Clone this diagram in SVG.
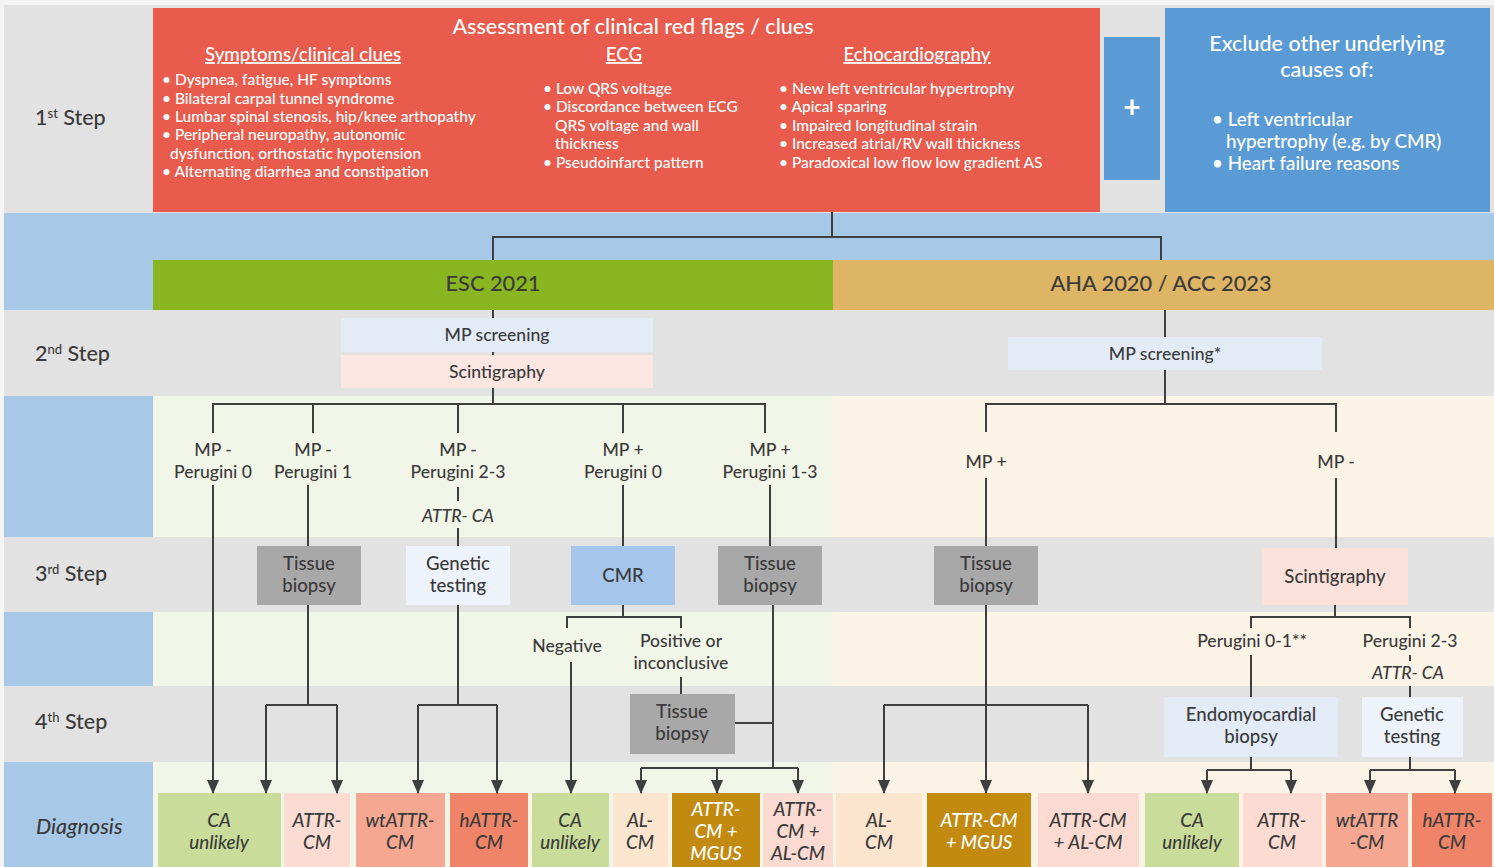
<svg xmlns="http://www.w3.org/2000/svg" width="1494" height="867" viewBox="0 0 1494 867">
<style>
text{font-family:Lato,"Open Sans","Liberation Sans",sans-serif;fill:#3b3b3b;font-weight:500}
.w{fill:#ffffff}
.c{text-anchor:middle}
.step{font-size:21.5px}
.sup{font-size:13px}
.hd{font-size:18.7px;text-decoration:underline}
.bl{font-size:15.5px}
.bb{font-size:18.8px}
.lb{font-size:17.6px}
.bx{font-size:18.6px}
.it{font-style:italic}
.dx{font-size:18.8px;font-style:italic}
.plus{font-size:30px;font-weight:700}
.ln{fill:none;stroke:#3f3f3f;stroke-width:2}
.ar{fill:none;stroke:#3f3f3f;stroke-width:2;marker-end:url(#ah)}
.gray{fill:#e2e2e2}
.blue{fill:#a8c8e8}
.lg{fill:#f2f6e8}
.cr{fill:#fcf3e7}
</style>
<defs>
<marker id="ah" markerUnits="userSpaceOnUse" markerWidth="12" markerHeight="14" refX="6" refY="13" orient="0" viewBox="0 0 12 14">
<path d="M0,0 L12,0 L6,14 z" fill="#3f3f3f"/>
</marker>
</defs>
<g id="background">
<rect x="0" y="0" width="1494" height="867" fill="#f4f4f4"/>
<rect x="4" y="5" width="1490" height="208" class="gray"/>
<rect x="4" y="213" width="1490" height="47" class="blue"/>
<rect x="4" y="260" width="149" height="50" class="blue"/>
<rect x="153" y="260" width="680" height="50" fill="#89b520"/>
<rect x="833" y="260" width="661" height="50" fill="#ddb564"/>
<rect x="4" y="310" width="1490" height="86" class="gray"/>
<rect x="4" y="396" width="149" height="141" class="blue"/>
<rect x="153" y="396" width="680" height="141" class="lg"/>
<rect x="833" y="396" width="661" height="141" class="cr"/>
<rect x="4" y="537" width="1490" height="75" class="gray"/>
<rect x="4" y="612" width="149" height="74" class="blue"/>
<rect x="153" y="612" width="680" height="74" class="lg"/>
<rect x="833" y="612" width="661" height="74" class="cr"/>
<rect x="4" y="686" width="1490" height="76" class="gray"/>
<rect x="4" y="762" width="149" height="105" class="blue"/>
<rect x="153" y="762" width="680" height="105" class="lg"/>
<rect x="833" y="762" width="661" height="105" class="cr"/>
</g>
<g id="step-labels">
<text x="35" y="125" class="step">1<tspan class="sup" dy="-7">st</tspan><tspan dy="7"> Step</tspan></text>
<text x="35" y="361" class="step">2<tspan class="sup" dy="-7">nd</tspan><tspan dy="7"> Step</tspan></text>
<text x="35" y="581" class="step">3<tspan class="sup" dy="-7">rd</tspan><tspan dy="7"> Step</tspan></text>
<text x="35" y="729" class="step">4<tspan class="sup" dy="-7">th</tspan><tspan dy="7"> Step</tspan></text>
<text x="36" y="834" class="step it">Diagnosis</text>
</g>
<g id="red-flags">
<rect x="153" y="8" width="947" height="204" fill="#e95b4d"/>
<text x="633" y="34" class="w c" font-size="21.5">Assessment of clinical red flags / clues</text>
<text x="303" y="61" class="w c hd">Symptoms/clinical clues</text>
<text x="162" y="85" class="w bl">• Dyspnea, fatigue, HF symptoms</text>
<text x="162" y="104" class="w bl">• Bilateral carpal tunnel syndrome</text>
<text x="162" y="122" class="w bl">• Lumbar spinal stenosis, hip/knee arthopathy</text>
<text x="162" y="140" class="w bl">• Peripheral neuropathy, autonomic</text>
<text x="170" y="159" class="w bl">dysfunction, orthostatic hypotension</text>
<text x="162" y="177" class="w bl">• Alternating diarrhea and constipation</text>
<text x="624" y="61" class="w c hd">ECG</text>
<text x="543" y="94" class="w bl">• Low QRS voltage</text>
<text x="543" y="112" class="w bl">• Discordance between ECG</text>
<text x="555" y="131" class="w bl">QRS voltage and wall</text>
<text x="555" y="149" class="w bl">thickness</text>
<text x="543" y="168" class="w bl">• Pseudoinfarct pattern</text>
<text x="917" y="61" class="w c hd">Echocardiography</text>
<text x="779" y="94" class="w bl">• New left ventricular hypertrophy</text>
<text x="779" y="112" class="w bl">• Apical sparing</text>
<text x="779" y="131" class="w bl">• Impaired longitudinal strain</text>
<text x="779" y="149" class="w bl">• Increased atrial/RV wall thickness</text>
<text x="779" y="168" class="w bl">• Paradoxical low flow low gradient AS</text>
</g>
<g id="plus">
<rect x="1104" y="37" width="56" height="143" fill="#5b9bd5"/>
<text x="1132" y="118" class="w c plus">+</text>
</g>
<g id="exclude">
<rect x="1165" y="8" width="325" height="204" fill="#5b9bd5"/>
<text x="1327" y="51" class="w c" font-size="21.5">Exclude other underlying</text>
<text x="1327" y="77" class="w c" font-size="21.5">causes of:</text>
<text x="1212" y="126" class="w bb">• Left ventricular</text>
<text x="1226" y="148" class="w bb">hypertrophy (e.g. by CMR)</text>
<text x="1212" y="170" class="w bb">• Heart failure reasons</text>
</g>
<g id="esc">
<text x="493" y="291" class="c" font-size="21.8">ESC 2021</text>
</g>
<g id="aha">
<text x="1161" y="291" class="c" font-size="21.8">AHA 2020 / ACC 2023</text>
</g>
<g id="esc-mp">
<rect x="341" y="318" width="312" height="34" fill="#e3ebf7"/>
<text x="497" y="341" class="c lb">MP screening</text>
</g>
<g id="esc-scinti">
<rect x="341" y="355" width="312" height="33" fill="#fbe6e2"/>
<text x="497" y="378" class="c lb">Scintigraphy</text>
</g>
<g id="aha-mp">
<rect x="1008" y="337" width="314" height="33" fill="#e3ebf7"/>
<text x="1165" y="360" class="c lb">MP screening*</text>
</g>
<g id="lbl-mpn-p0"><text x="213" y="456" class="c lb">MP -</text><text x="213" y="478" class="c lb">Perugini 0</text></g>
<g id="lbl-mpn-p1"><text x="313" y="456" class="c lb">MP -</text><text x="313" y="478" class="c lb">Perugini 1</text></g>
<g id="lbl-mpn-p23"><text x="458" y="456" class="c lb">MP -</text><text x="458" y="478" class="c lb">Perugini 2-3</text><text x="458" y="522" class="c lb it">ATTR- CA</text></g>
<g id="lbl-mpp-p0"><text x="623" y="456" class="c lb">MP +</text><text x="623" y="478" class="c lb">Perugini 0</text></g>
<g id="lbl-mpp-p13"><text x="770" y="456" class="c lb">MP +</text><text x="770" y="478" class="c lb">Perugini 1-3</text></g>
<g id="lbl-aha-mpp"><text x="986" y="468" class="c lb">MP +</text></g>
<g id="lbl-aha-mpn"><text x="1336" y="468" class="c lb">MP -</text></g>
<g id="tissue1">
<rect x="257" y="546" width="104" height="59" fill="#a8a8a8"/>
<text x="309" y="570" class="c bx">Tissue</text><text x="309" y="592" class="c bx">biopsy</text>
</g>
<g id="genetic1">
<rect x="406" y="546" width="104" height="59" fill="#eef3fb"/>
<text x="458" y="570" class="c bx">Genetic</text><text x="458" y="592" class="c bx">testing</text>
</g>
<g id="cmr">
<rect x="571" y="546" width="104" height="59" fill="#a5c6ea"/>
<text x="623" y="582" class="c bx">CMR</text>
</g>
<g id="tissue2">
<rect x="718" y="546" width="104" height="59" fill="#a8a8a8"/>
<text x="770" y="570" class="c bx">Tissue</text><text x="770" y="592" class="c bx">biopsy</text>
</g>
<g id="tissue-aha">
<rect x="934" y="546" width="104" height="59" fill="#a8a8a8"/>
<text x="986" y="570" class="c bx">Tissue</text><text x="986" y="592" class="c bx">biopsy</text>
</g>
<g id="scinti-aha">
<rect x="1262" y="548" width="146" height="57" fill="#fbe1da"/>
<text x="1335" y="583" class="c bx">Scintigraphy</text>
</g>
<g id="lbl-negative"><text x="567" y="652" class="c lb">Negative</text></g>
<g id="lbl-positive"><text x="681" y="647" class="c lb">Positive or</text><text x="681" y="669" class="c lb">inconclusive</text></g>
<g id="tissue3">
<rect x="630" y="694" width="105" height="60" fill="#a8a8a8"/>
<text x="682" y="718" class="c bx">Tissue</text><text x="682" y="740" class="c bx">biopsy</text>
</g>
<g id="lbl-p01"><text x="1252" y="647" class="c lb">Perugini 0-1**</text></g>
<g id="lbl-p23"><text x="1410" y="647" class="c lb">Perugini 2-3</text><text x="1408" y="679" class="c lb it">ATTR- CA</text></g>
<g id="endo">
<rect x="1164" y="697" width="174" height="60" fill="#e3ebf7"/>
<text x="1251" y="721" class="c bx">Endomyocardial</text><text x="1251" y="743" class="c bx">biopsy</text>
</g>
<g id="genetic2">
<rect x="1362" y="697" width="101" height="60" fill="#eef3fb"/>
<text x="1412" y="721" class="c bx">Genetic</text><text x="1412" y="743" class="c bx">testing</text>
</g>
<g id="dx1"><rect x="158" y="793" width="123" height="74" fill="#c9dc99"/><text x="219" y="827" class="c dx">CA</text><text x="219" y="849" class="c dx">unlikely</text></g>
<g id="dx2"><rect x="284" y="793" width="66" height="74" fill="#fcdcd2"/><text x="317" y="827" class="c dx">ATTR-</text><text x="317" y="849" class="c dx">CM</text></g>
<g id="dx3"><rect x="356" y="793" width="89" height="74" fill="#f5a792"/><text x="400" y="827" class="c dx">wtATTR-</text><text x="400" y="849" class="c dx">CM</text></g>
<g id="dx4"><rect x="450" y="793" width="78" height="74" fill="#ef8469"/><text x="489" y="827" class="c dx">hATTR-</text><text x="489" y="849" class="c dx">CM</text></g>
<g id="dx5"><rect x="532" y="793" width="77" height="74" fill="#c9dc99"/><text x="570" y="827" class="c dx">CA</text><text x="570" y="849" class="c dx">unlikely</text></g>
<g id="dx6"><rect x="613" y="793" width="55" height="74" fill="#fbe5cf"/><text x="640" y="827" class="c dx">AL-</text><text x="640" y="849" class="c dx">CM</text></g>
<g id="dx7"><rect x="672" y="793" width="88" height="74" fill="#c38a10"/><text x="716" y="816" class="c dx w">ATTR-</text><text x="716" y="838" class="c dx w">CM +</text><text x="716" y="860" class="c dx w">MGUS</text></g>
<g id="dx8"><rect x="763" y="793" width="70" height="74" fill="#fbdad2"/><text x="798" y="816" class="c dx">ATTR-</text><text x="798" y="838" class="c dx">CM +</text><text x="798" y="860" class="c dx">AL-CM</text></g>
<g id="dx9"><rect x="836" y="793" width="86" height="74" fill="#fbe5cf"/><text x="879" y="827" class="c dx">AL-</text><text x="879" y="849" class="c dx">CM</text></g>
<g id="dx10"><rect x="927" y="793" width="104" height="74" fill="#c38a10"/><text x="979" y="827" class="c dx w">ATTR-CM</text><text x="979" y="849" class="c dx w">+ MGUS</text></g>
<g id="dx11"><rect x="1038" y="793" width="101" height="74" fill="#fbdad2"/><text x="1088" y="827" class="c dx">ATTR-CM</text><text x="1088" y="849" class="c dx">+ AL-CM</text></g>
<g id="dx12"><rect x="1145" y="793" width="94" height="74" fill="#c9dc99"/><text x="1192" y="827" class="c dx">CA</text><text x="1192" y="849" class="c dx">unlikely</text></g>
<g id="dx13"><rect x="1243" y="793" width="79" height="74" fill="#fcdcd2"/><text x="1282" y="827" class="c dx">ATTR-</text><text x="1282" y="849" class="c dx">CM</text></g>
<g id="dx14"><rect x="1326" y="793" width="82" height="74" fill="#f5a792"/><text x="1367" y="827" class="c dx">wtATTR</text><text x="1367" y="849" class="c dx">-CM</text></g>
<g id="dx15"><rect x="1412" y="793" width="80" height="74" fill="#ef8469"/><text x="1452" y="827" class="c dx">hATTR-</text><text x="1452" y="849" class="c dx">CM</text></g>
<g id="connectors">
<path class="ln" d="M832,212 V237 M493,260 V237 H1161 V260"/>
<path class="ln" d="M493,310 V318 M493,352 V355 M493,388 V404 M213,433 V404 H765 V433 M313,404 V433 M458,404 V433 M623,404 V433"/>
<path class="ln" d="M1165,310 V337 M1165,370 V404 M986,432 V404 H1336 V432"/>
<path class="ar" d="M213,485 V793"/>
<path class="ln" d="M308,485 V546 M458,487 V501 M458,528 V546 M623,485 V546 M770,485 V546"/>
<path class="ln" d="M986,478 V546 M1336,478 V548"/>
<path class="ln" d="M308,605 V705 M266,705 H337 M458,605 V705 M418,705 H497"/>
<path class="ar" d="M266,705 V793"/><path class="ar" d="M337,705 V793"/>
<path class="ar" d="M418,705 V793"/><path class="ar" d="M497,705 V793"/>
<path class="ln" d="M623,605 V617 M567,628 V617 H681 V628 M681,677 V694"/>
<path class="ar" d="M571,662 V793"/>
<path class="ln" d="M773,605 V768 M735,723 H773 M641,768 H798"/>
<path class="ar" d="M641,768 V793"/><path class="ar" d="M717,768 V793"/><path class="ar" d="M798,768 V793"/>
<path class="ar" d="M986,605 V793"/>
<path class="ln" d="M884,705 H1088"/>
<path class="ar" d="M884,705 V793"/><path class="ar" d="M1088,705 V793"/>
<path class="ln" d="M1335,605 V617 M1251,628 V617 H1410 V628 M1251,655 V697 M1410,655 V661 M1410,686 V697"/>
<path class="ln" d="M1251,757 V770 M1207,770 H1291 M1410,757 V770 M1370,770 H1455"/>
<path class="ar" d="M1207,770 V793"/><path class="ar" d="M1291,770 V793"/>
<path class="ar" d="M1370,770 V793"/><path class="ar" d="M1455,770 V793"/>
</g>
</svg>
